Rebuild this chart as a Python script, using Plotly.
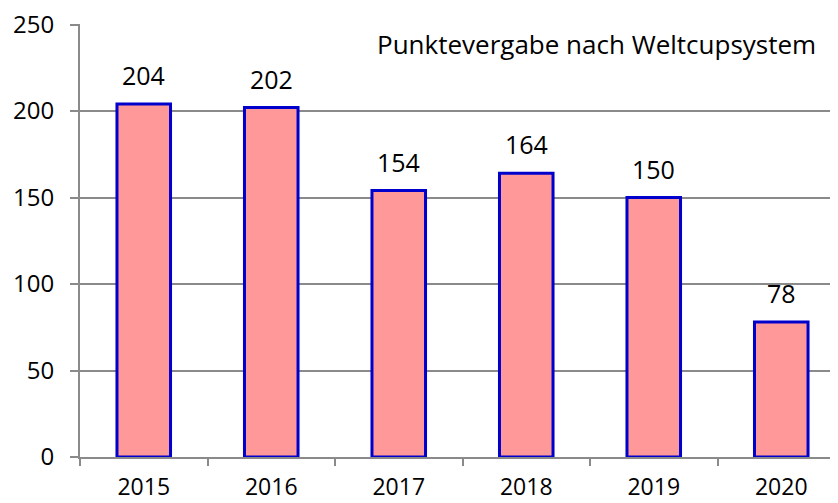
import plotly.graph_objects as go

years = ["2015", "2016", "2017", "2018", "2019", "2020"]
points = [204, 202, 154, 164, 150, 78]
y_ticks = [0, 50, 100, 150, 200, 250]
title_text = "Punktevergabe nach Weltcupsystem"

FONT = "'Open Sans', sans-serif"
GRAY = "#8A8A8A"

fig = go.Figure()
fig.add_trace(go.Bar(
    x=years, y=points,
    marker=dict(color="#FF9999", line=dict(color="#0000CC", width=3)),
    width=0.42,
))

for i, v in enumerate(points):
    fig.add_annotation(x=i, y=v, text=str(v), showarrow=False,
                       yanchor="bottom", yshift=10,
                       font=dict(family=FONT, size=25, color="black"))

fig.add_annotation(xref="paper", yref="paper", x=0.973, y=0.954,
                   xanchor="right", yanchor="middle", showarrow=False,
                   text=title_text, font=dict(family=FONT, size=26, color="black"))

# page body has an 8px margin, so figure is 8px smaller and margins shifted
fig.update_layout(
    width=830, height=495,
    margin=dict(l=72, r=0, t=16, b=46),
    paper_bgcolor="white", plot_bgcolor="white",
    showlegend=False,
    font=dict(family=FONT, size=24, color="black"),
)
fig.update_xaxes(
    type="category", range=[-0.5, 5.445], automargin=False,
    tickson="boundaries", ticks="outside", ticklen=7, tickcolor=GRAY, tickwidth=2,
    showline=True, linecolor=GRAY, linewidth=2,
    showgrid=False, tickfont=dict(size=23), ticklabelstandoff=8,
)
fig.update_yaxes(
    range=[0, 250.3], tickvals=y_ticks, automargin=False,
    ticklabeloverflow="allow",
    ticks="outside", ticklen=8, tickcolor=GRAY, tickwidth=2,
    showline=True, linecolor=GRAY, linewidth=2,
    showgrid=True, gridcolor=GRAY, gridwidth=2,
    zeroline=False, tickfont=dict(size=24), ticklabelstandoff=11,
)

fig.write_html("out.html")
